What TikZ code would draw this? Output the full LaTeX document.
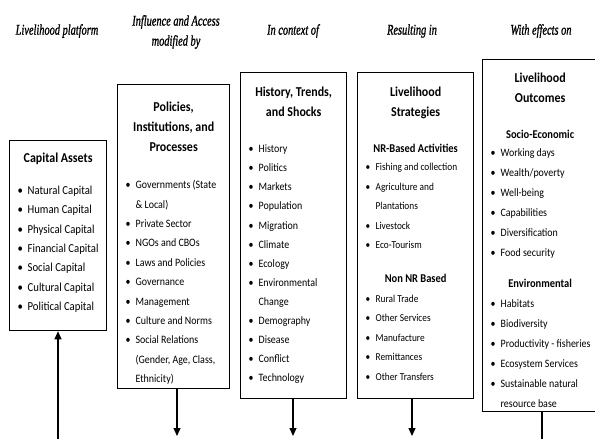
\documentclass[tikz,border=0pt]{standalone}
\usepackage{fontspec}
\setmainfont{Carlito}[FakeStretch=0.88]
\newfontfamily\headfont[FakeStretch=0.7, FakeBold=1]{Liberation Serif}
\usepackage{tikz}
\usetikzlibrary{arrows.meta, positioning}

\newcommand{\boxtitle}[1]{\par{\centering\fontsize{13.6}{20}\selectfont\bfseries #1\par}}
\newcommand{\boxhead}[1]{\par{\centering\fontsize{11.9}{19}\selectfont\bfseries #1\par}}
\newcommand{\bitem}[1]{\par{\leftskip=8pt\rightskip=0pt plus 1fil\noindent\hangindent=10pt\hangafter=1\makebox[10pt][l]{\textbullet}#1\par}}

\begin{document}
\begin{tikzpicture}[x=1pt, y=-1pt,
          panel/.style={draw=black, line width=1.3pt, inner sep=0pt, anchor=north west},
          head/.style={font=\headfont\itshape\fontsize{14.8}{20}\selectfont, align=center},
          link/.style={line width=1.2pt, -{Triangle[length=8pt, width=7pt]}}
        ]
          \useasboundingbox (0,0) rectangle (595,439);

          \node (hplatform) [head] at (57,31) {Livelihood platform};
          \node (hinfluence) [head] at (176,32) {Influence and Access\\modified by};
          \node (hcontext) [head] at (293,31) {In context of};
          \node (hresult) [head] at (412,31) {Resulting in};
          \node (heffect) [head] at (541,31) {With effects on};

          \node (capital) [panel] at (9,140) {\parbox[c][190pt][t]{97pt}{\fontsize{12.2}{19.3}\selectfont
            \boxtitle{\rule{0pt}{22pt}Capital Assets}
            \vspace{12.7pt}
            \bitem{Natural Capital}
            \bitem{Human Capital}
            \bitem{Physical Capital}
            \bitem{Financial Capital}
            \bitem{Social Capital}
            \bitem{Cultural Capital}
            \bitem{Political Capital}}};

          \node (policy) [panel] at (117,84) {\parbox[c][304pt][t]{112pt}{\fontsize{11.3}{19.4}\selectfont
            \boxtitle{\rule{0pt}{27pt}Policies,\\Institutions, and\\Processes}
            \vspace{17.6pt}
            \bitem{Governments (State\\\& Local)}
            \bitem{Private Sector}
            \bitem{NGOs and CBOs}
            \bitem{Laws and Policies}
            \bitem{Governance}
            \bitem{Management}
            \bitem{Culture and Norms}
            \bitem{Social Relations\\(Gender, Age, Class,\\Ethnicity)}}};

          \node (history) [panel] at (240,72) {\parbox[c][326pt][t]{106pt}{\fontsize{11.3}{19.1}\selectfont
            \boxtitle{\rule{0pt}{24pt}History, Trends,\\and Shocks}
            \vspace{16.9pt}
            \bitem{History}
            \bitem{Politics}
            \bitem{Markets}
            \bitem{Population}
            \bitem{Migration}
            \bitem{Climate}
            \bitem{Ecology}
            \bitem{Environmental\\Change}
            \bitem{Demography}
            \bitem{Disease}
            \bitem{Conflict}
            \bitem{Technology}}};

          \node (strategy) [panel] at (357,72) {\parbox[c][326pt][t]{116pt}{\fontsize{10.6}{19.5}\selectfont
            \boxtitle{\rule{0pt}{24pt}Livelihood\\Strategies}
            \vspace{17pt}
            \boxhead{NR-Based Activities}
            \vspace{-1.5pt}
            \bitem{Fishing and collection}
            \bitem{Agriculture and\\Plantations}
            \bitem{Livestock}
            \bitem{Eco-Tourism}
            \vspace{15pt}
            \boxhead{Non NR Based}
            \bitem{Rural Trade}
            \bitem{Other Services}
            \bitem{Manufacture}
            \bitem{Remittances}
            \bitem{Other Transfers}}};

          \node (outcome) [panel] at (482,59) {\parbox[c][352pt][t]{115pt}{\fontsize{11.3}{20}\selectfont
            \boxtitle{\rule{0pt}{23pt}Livelihood\\Outcomes}
            \vspace{17pt}
            \boxhead{Socio-Economic}
            \vspace{-2pt}
            \bitem{Working days}
            \bitem{Wealth/poverty}
            \bitem{Well-being}
            \bitem{Capabilities}
            \bitem{Diversification}
            \bitem{Food security}
            \vspace{12pt}
            \boxhead{Environmental}
            \bitem{Habitats}
            \bitem{Biodiversity}
            \bitem{Productivity - fisheries}
            \bitem{Ecosystem Services}
            \bitem{Sustainable natural\\resource base}}};

          \coordinate (capital-in) at (58,441);
          \coordinate (policy-out) at (177,436);
          \coordinate (history-out) at (293,436);
          \coordinate (strategy-out) at (412,436);
          \coordinate (outcome-out) at (542,441);

          \draw[link] (capital-in) -- (capital-in |- capital.south);
          \draw[link] (policy-out |- policy.south) -- (policy-out);
          \draw[link] (history-out |- history.south) -- (history-out);
          \draw[link] (strategy-out |- strategy.south) -- (strategy-out);
          \draw[line width=1.2pt] (outcome-out |- outcome.south) -- (outcome-out);
        \end{tikzpicture}
\end{document}
